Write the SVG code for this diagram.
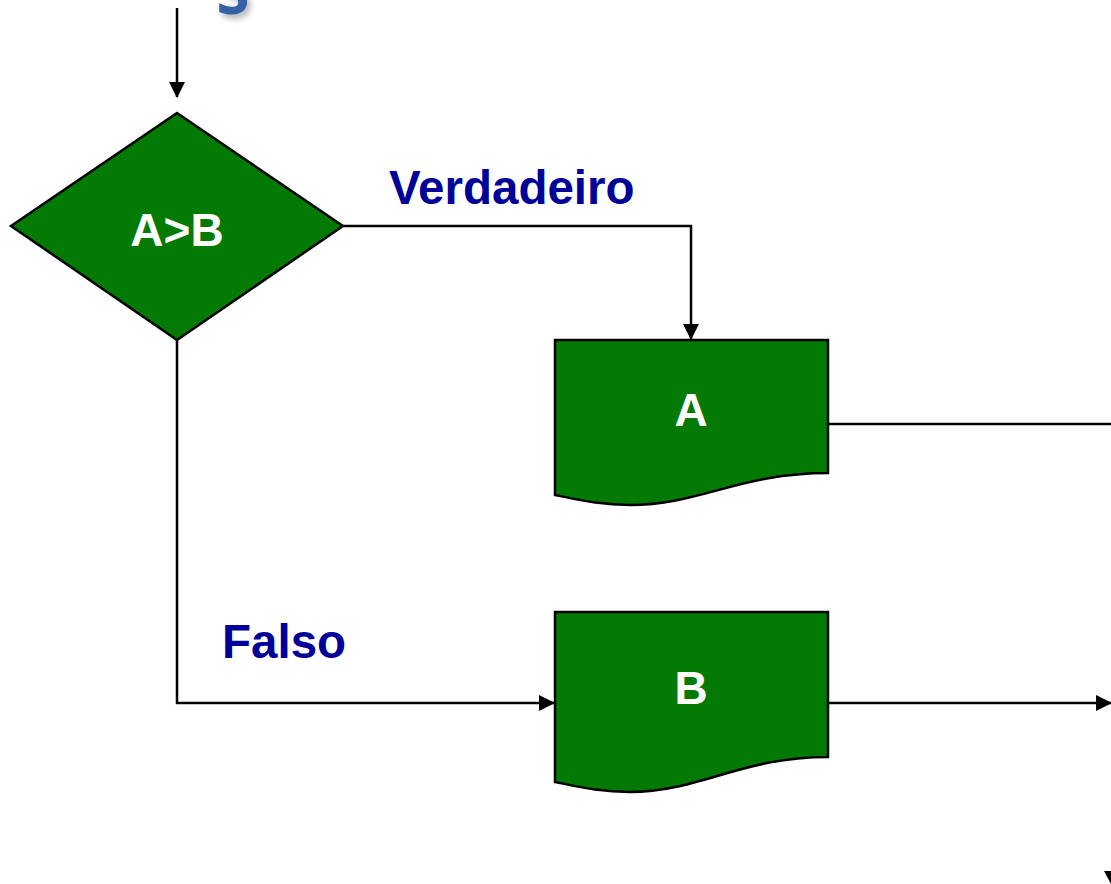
<svg xmlns="http://www.w3.org/2000/svg" width="1111" height="884" viewBox="0 0 1111 884">
<defs>
<style>
.node{fill:#037a03;stroke:#000;stroke-width:2.5;stroke-linejoin:miter}
.lbl{font-family:"Liberation Sans",Arial,sans-serif;font-weight:bold;font-size:46px;fill:#fff;text-anchor:middle}
.cond{font-family:"Liberation Sans",Arial,sans-serif;font-weight:bold;font-size:47.5px;fill:#000099}
.conn{fill:none;stroke:#000;stroke-width:2.5}
</style>
<marker id="arr" markerUnits="userSpaceOnUse" markerWidth="16" markerHeight="16" viewBox="0 0 16 16" refX="15" refY="8" orient="auto">
<path d="M0,0 L16,8 L0,16 Z" fill="#000"/>
</marker>
<filter id="sh" x="-50%" y="-50%" width="200%" height="200%">
<feDropShadow dx="3" dy="4" stdDeviation="3" flood-color="#000" flood-opacity="0.3"/>
</filter>
</defs>
<rect width="1111" height="884" fill="#fff"/>
<text x="233" y="14" font-family="Open Sans,sans-serif" font-weight="bold" font-size="60" fill="#3462a6" text-anchor="middle" filter="url(#sh)">S</text>
<g id="connectors">
<path class="conn" d="M177,8 V97" marker-end="url(#arr)"/>
<path class="conn" d="M343,226 H691 V339" marker-end="url(#arr)"/>
<path class="conn" d="M177,340 V703 H554" marker-end="url(#arr)"/>
<path class="conn" d="M828,424 H1111"/>
<path class="conn" d="M828,703 H1111" marker-end="url(#arr)"/>
<path d="M1104,871 L1111,871 L1111,884 Z" fill="#000"/>
</g>
<g id="decision">
<polygon class="node" points="177,113 343,226 177,340 11,226"/>
<text class="lbl" x="177" y="246">A&gt;B</text>
</g>
<g id="label-verdadeiro"><text class="cond" x="389" y="204">Verdadeiro</text></g>
<g id="label-falso"><text class="cond" x="222" y="658">Falso</text></g>
<g id="docA">
<path class="node" d="M555,340 H828 V473 C740,473 700,505 630,505 C600,505 580,500 555,495 Z"/>
<text class="lbl" x="691" y="426">A</text>
</g>
<g id="docB">
<path class="node" d="M555,612 H828 V757 C740,757 700,792 630,792 C600,792 580,787 555,782 Z"/>
<text class="lbl" x="691" y="704">B</text>
</g>
</svg>
